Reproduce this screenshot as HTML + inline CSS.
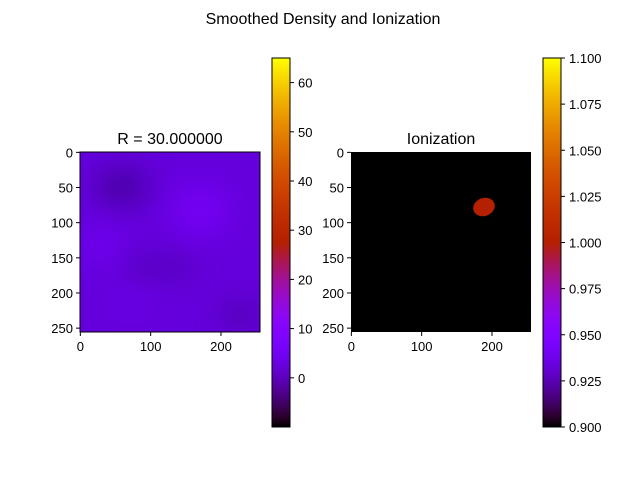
<!DOCTYPE html>
<html><head><meta charset="utf-8"><style>
body{margin:0;background:#fff;}
svg{display:block;font-family:"Liberation Sans","DejaVu Sans",sans-serif;}
text{fill:#000;font-size:13px;}
</style></head><body>
<svg id="fig" width="640" height="480" viewBox="0 0 640 480">
<defs>
<filter id="blur" x="-50%" y="-50%" width="200%" height="200%"><feGaussianBlur stdDeviation="14"/></filter>
<clipPath id="clipL"><rect x="80" y="152" width="180" height="180"/></clipPath>
<linearGradient id="gnuL" x1="0" y1="1" x2="0" y2="0"></linearGradient>
<linearGradient id="gnuR" x1="0" y1="1" x2="0" y2="0"></linearGradient>
</defs>
<text x="323" y="24" text-anchor="middle" style="font-size:16px">Smoothed Density and Ionization</text>
<text x="170" y="144" text-anchor="middle" style="font-size:16px">R = 30.000000</text>
<text x="441" y="144" text-anchor="middle" style="font-size:16px">Ionization</text>
<g clip-path="url(#clipL)">
<rect x="80" y="152" width="180" height="180" fill="#6400dc"/>
<g filter="url(#blur)">
<ellipse cx="122" cy="187" rx="28" ry="20" fill="#4c00a8"/>
<ellipse cx="160" cy="268" rx="40" ry="14" fill="#5800c0"/>
<ellipse cx="240" cy="315" rx="22" ry="16" fill="#5400b8"/>
<ellipse cx="200" cy="210" rx="30" ry="25" fill="#7400f4"/>
<ellipse cx="100" cy="245" rx="20" ry="20" fill="#7000f0"/>
<ellipse cx="130" cy="300" rx="22" ry="12" fill="#6c00e8"/>
</g>
</g>
<rect x="80" y="152" width="180" height="180" fill="none" stroke="#000" stroke-width="1"/>
<rect x="351" y="152" width="180" height="180" fill="#000"/>
<ellipse cx="484" cy="207" rx="11" ry="9" transform="rotate(-20 484 207)" fill="#b42000"/>
<rect x="272" y="58" width="18" height="369" fill="url(#gnuL)" stroke="#000"/>
<rect x="543" y="58" width="18" height="369" fill="url(#gnuR)" stroke="#000"/>
<g id="axes"></g>
</svg>
<script>
const xTicks=[0,100,200];
const yTicks=[0,50,100,150,200,250];
const cbLTicks=[0,10,20,30,40,50,60];
const cbLRange=[-10,65];
const cbRTicks=[0.9,0.925,0.95,0.975,1.0,1.025,1.05,1.075,1.1];
const cbRRange=[0.9,1.1];
const NS='http://www.w3.org/2000/svg';
const ax=document.getElementById('axes');
function gnu(t){const r=Math.sqrt(t),g=t*t*t,b=Math.max(0,Math.sin(2*Math.PI*t));return `rgb(${Math.round(r*255)},${Math.round(g*255)},${Math.round(b*255)})`;}
['gnuL','gnuR'].forEach(id=>{const gr=document.getElementById(id);for(let i=0;i<=40;i++){const s=document.createElementNS(NS,'stop');s.setAttribute('offset',i/40);s.setAttribute('stop-color',gnu(i/40));gr.appendChild(s);}});
function line(x1,y1,x2,y2){const l=document.createElementNS(NS,'line');l.setAttribute('x1',x1);l.setAttribute('y1',y1);l.setAttribute('x2',x2);l.setAttribute('y2',y2);l.setAttribute('stroke','#000');


ax.appendChild(l);}
function txt(x,y,s,a){const t=document.createElementNS(NS,'text');t.setAttribute('x',x);t.setAttribute('y',y);t.setAttribute('text-anchor',a);t.textContent=s;


ax.appendChild(t);}
const sc=180/256;
[80,351].forEach(x0=>{
 xTicks.forEach(v=>{const x=x0+(v+0.5)*sc;line(x,332,x,336);txt(x,351,String(v),'middle');});
 yTicks.forEach(v=>{const y=152+(v+0.5)*sc;line(x0-4,y,x0,y);txt(x0-7,y+5,String(v),'end');});
});
function cb(x0,ticks,rng,fmt){ticks.forEach(v=>{const y=427-(v-rng[0])/(rng[1]-rng[0])*369;line(x0+18,y,x0+22,y);txt(x0+26,y+5,fmt(v),'start');});}
cb(272,cbLTicks,cbLRange,v=>String(v));
cb(543,cbRTicks,cbRRange,v=>v.toFixed(3));
</script>
</body></html>
